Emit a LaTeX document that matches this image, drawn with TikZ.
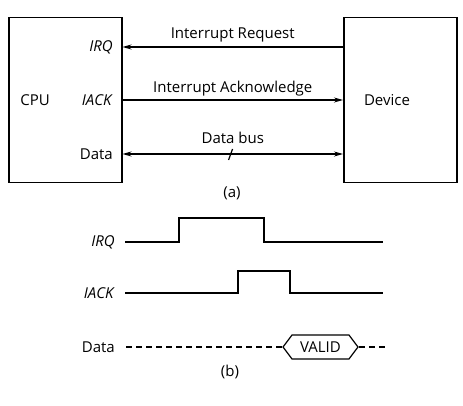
\documentclass[tikz,border=0pt]{standalone}
\usepackage{fontspec}
\setmainfont{Open Sans}
\usetikzlibrary{arrows.meta,positioning,shapes.symbols}

\begin{document}
\begin{tikzpicture}[x=1pt,y=-1pt,every node/.style={font=\fontsize{15}{17}\selectfont},box/.style={draw, line width=1.5pt, minimum width=113pt, minimum height=165pt, anchor=north west},
port/.style={anchor=east, inner sep=0pt}, sig/.style={line width=1.2pt, -{Stealth[length=9pt,width=5pt]}}, bus/.style={line width=1.2pt, {Stealth[length=9pt,width=5pt]}-{Stealth[length=9pt,width=5pt]}},
wave/.style={line width=1.2pt}, valid/.style={draw, line width=1.2pt, shape=signal, signal to=east and west, signal pointer angle=106, minimum width=75pt, minimum height=24pt, inner sep=0pt}]
\useasboundingbox (0,0) rectangle (463,406);
% (a) CPU and device
\node [box] (cpu) at (8,17) {};
\node [box] (device) at (343,17) {};
\node (cpulbl) at (35,100) {CPU};
\node (devlbl) at (387,100) {Device};
\node [port] (irq) at (113,47) {\textit{IRQ}};
\node [port] (iack) at (113,100) {\textit{IACK}};
\node [port] (data) at (113,154) {Data};
\draw [sig] (device.west |- irq) -- (cpu.east |- irq) node[midway, above=1pt] {Interrupt Request};
\draw [sig] (cpu.east |- iack) -- (device.west |- iack) node[midway, above=0pt] {Interrupt Acknowledge};
\draw [bus] (cpu.east |- data) -- (device.west |- data) node[midway, above=6pt] {Data bus} coordinate[pos=0.49] (busmid);
\draw [line width=1.2pt] ([shift={(2,-5)}]busmid) -- ([shift={(-2,6)}]busmid);
\node (capa) at (232,193) {(a)};
% (b) timing
\node [port] (tirq) at (115,242) {\textit{IRQ}};
\node [port] (tiack) at (115,293) {\textit{IACK}};
\node [port] (tdata) at (115,347) {Data};
\draw [wave] ([xshift=10pt]tirq.east) -- ++(54,0) -- ++(0,-24) -- ++(85,0) -- ++(0,24) -- ++(119,0);
\draw [wave] ([xshift=10pt]tiack.east) -- ++(113,0) -- ++(0,-22) -- ++(52,0) -- ++(0,22) -- ++(93,0);
\node [valid] (val) at (320.5,347) {VALID};
\draw [wave, dash pattern=on 6pt off 4pt] ([xshift=11pt]tdata.east) -- (val.west);
\draw [wave, dash pattern=on 6pt off 4pt] (val.east) -- ++(26,0);
\node (capb) at (230,372) {(b)};
\end{tikzpicture}
\end{document}
